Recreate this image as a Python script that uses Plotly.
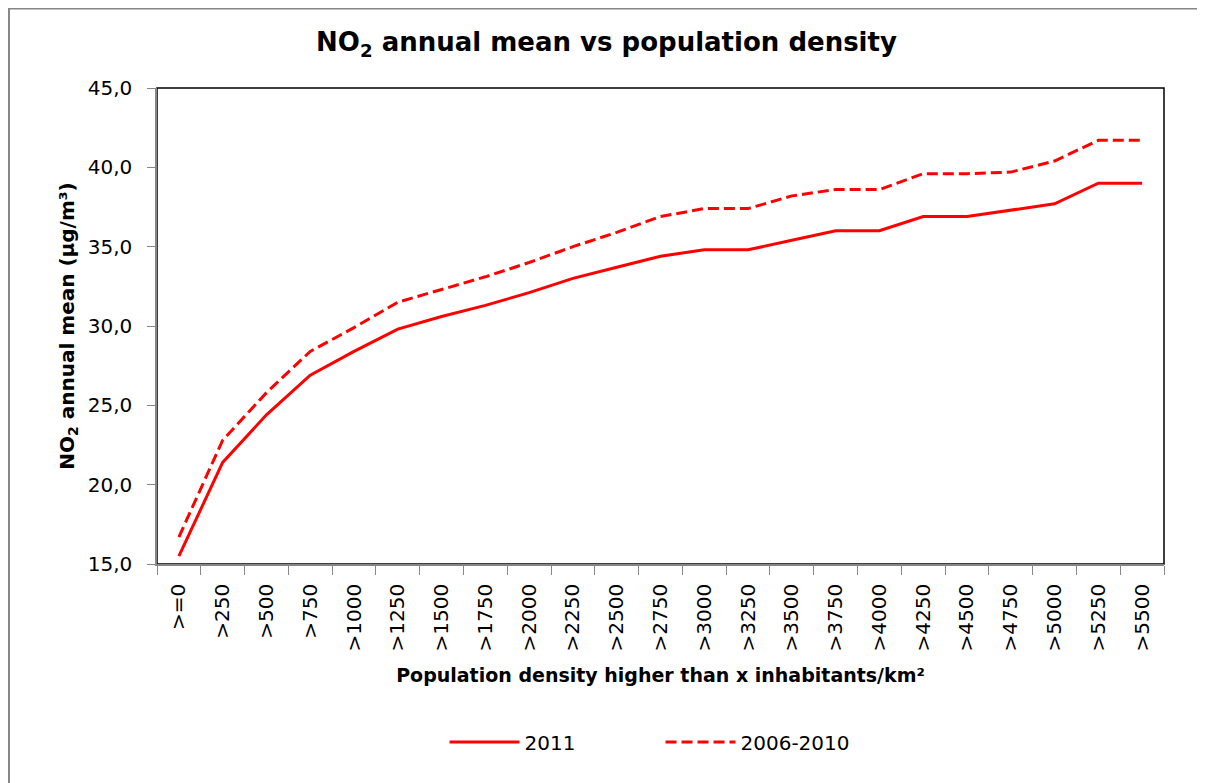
import plotly.graph_objects as go

# Population density classes (inhabitants/km²)
categories = [
    ">=0", ">250", ">500", ">750", ">1000", ">1250", ">1500", ">1750",
    ">2000", ">2250", ">2500", ">2750", ">3000", ">3250", ">3500", ">3750",
    ">4000", ">4250", ">4500", ">4750", ">5000", ">5250", ">5500",
]

# NO2 annual mean (µg/m³)
no2_2011 = [
    15.5, 21.4, 24.4, 26.9, 28.4, 29.8, 30.6, 31.3,
    32.1, 33.0, 33.7, 34.4, 34.8, 34.8, 35.4, 36.0,
    36.0, 36.9, 36.9, 37.3, 37.7, 39.0, 39.0,
]
no2_2006_2010 = [
    16.7, 22.8, 25.8, 28.4, 29.9, 31.5, 32.3, 33.1,
    34.0, 35.0, 35.9, 36.9, 37.4, 37.4, 38.2, 38.6,
    38.6, 39.6, 39.6, 39.7, 40.4, 41.7, 41.7,
]

font_family = "'DejaVu Sans', sans-serif"
axis_grey = "#868686"

# the page body keeps its 8px default margin, so the figure is 8px smaller
fig_w, fig_h = 1197, 775

fig = go.Figure()

fig.add_trace(
    go.Scatter(
        x=categories,
        y=no2_2011,
        mode="lines",
        name="2011",
        line=dict(color="#ff0000", width=3),
    )
)

fig.add_trace(
    go.Scatter(
        x=categories,
        y=no2_2006_2010,
        mode="lines",
        name="2006-2010",
        line=dict(color="#ff0000", width=3, dash="11px,5px"),
    )
)

# Plot area frame and outer chart border
fig.add_shape(
    type="rect", xref="paper", yref="paper", x0=0, x1=1, y0=0, y1=1,
    line=dict(color="#000000", width=1.5), layer="below",
)
fig.add_shape(
    type="rect", xref="paper", yref="paper", x0=-0.147, x1=1.06, y0=-0.48, y1=1.167,
    line=dict(color=axis_grey, width=2), layer="below",
)

fig.update_layout(
    width=fig_w,
    height=fig_h,
    margin=dict(l=149, r=41, t=80, b=219),
    paper_bgcolor="white",
    plot_bgcolor="white",
    separators=",.",
    font=dict(family=font_family, color="#000000", size=20),
    title=dict(
        text="<b>NO<sub>2</sub> annual mean vs population density</b>",
        x=0.5,
        xanchor="center",
        y=1 - 34 / fig_h,
        yanchor="middle",
        font=dict(size=26, family=font_family),
    ),
    xaxis=dict(
        type="category",
        showgrid=False,
        showline=True,
        linecolor=axis_grey,
        linewidth=1.5,
        ticks="outside",
        tickson="boundaries",
        ticklen=9,
        tickcolor=axis_grey,
        tickangle=-90,
        ticklabelstandoff=10,
        tickfont=dict(size=20),
        title=dict(
            text="<b>Population density higher than x inhabitants/km²</b>",
            font=dict(size=19),
            standoff=18,
        ),
        range=[-0.5, len(categories) - 0.5],
    ),
    yaxis=dict(
        range=[15, 45],
        dtick=5,
        tickformat=".1f",
        showgrid=False,
        zeroline=False,
        showline=True,
        linecolor=axis_grey,
        linewidth=1.5,
        ticks="outside",
        ticklen=8,
        tickcolor=axis_grey,
        ticklabelstandoff=11,
        tickfont=dict(size=20),
        title=dict(
            text="<b>NO<sub>2</sub> annual mean (µg/m³)</b>",
            font=dict(size=20),
            standoff=8,
        ),
    ),
    legend=dict(
        orientation="h",
        x=0.5,
        xanchor="center",
        y=-0.374,
        yanchor="middle",
        font=dict(size=20),
        itemwidth=70,
        entrywidth=131,
        traceorder="normal",
    ),
    showlegend=True,
)

fig.write_html("out.html")
